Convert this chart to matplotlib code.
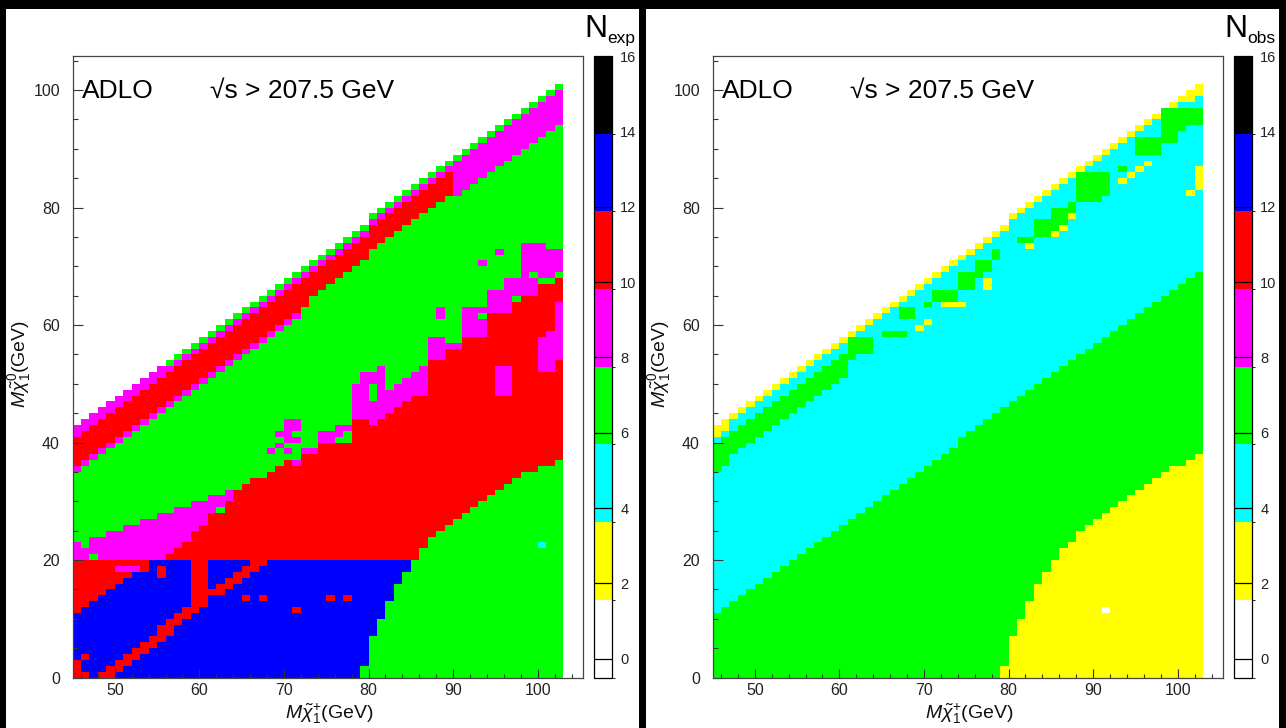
import numpy as np
import matplotlib
matplotlib.use("Agg")
import matplotlib.pyplot as plt
import matplotlib.patches as mpatches
from matplotlib.colors import ListedColormap, BoundaryNorm
from matplotlib.cm import ScalarMappable
from matplotlib.path import Path

FONT = ['Liberation Sans', 'DejaVu Sans']
plt.rcParams['font.family'] = FONT
plt.rcParams['mathtext.fontset'] = 'custom'
plt.rcParams['mathtext.rm'] = 'Liberation Sans'
plt.rcParams['mathtext.it'] = 'Liberation Sans:italic'

# ---------------- binning / palette ----------------
X_EDGES = np.arange(45, 104)          # 1 GeV chargino bins
Y_EDGES = np.arange(0, 103)           # 1 GeV neutralino bins
LEVELS = [-0.5, 1.5625, 3.625, 5.6875, 7.75, 9.8125, 11.875, 13.9375, 16.0]
PALETTE = ['#ffffff', '#ffff00', '#00ffff', '#00ff00',
           '#ff00ff', '#ff0000', '#0000ff', '#000000']
CB_TICKS = [0, 2, 4, 6, 8, 10, 12, 14, 16]
X_TICKS = [50, 60, 70, 80, 90, 100]
Y_TICKS = [0, 20, 40, 60, 80, 100]

# typical event count inside each colour band
W, Y, C, G, M, R, B = 1, 3, 5, 7, 9, 11, 13

# number of filled neutralino bins for each chargino column 45..102
TOP_EDGE = [43, 44, 45, 46, 47, 48, 49, 50, 51, 52, 53, 54, 55, 56, 57, 58,
            59, 60, 61, 62, 63, 64, 65, 66, 67, 68, 69, 70, 71, 72, 73, 74,
            75, 76, 77, 79, 80, 81, 82, 83, 84, 85, 86, 87, 88, 89, 90, 91,
            92, 93, 94, 95, 96, 97, 98, 99, 100, 101]

# ---------------- N_exp map ----------------
# bands measured downward from the kinematic edge: (col0, col1, depth0, depth1, level)
EXP_DEPTH_BANDS = [
    (45, 55, 1, 2, M), (56, 102, 1, 1, G), (56, 102, 2, 2, M),
    (45, 72, 3, 7, R), (45, 71, 8, 8, M), (73, 89, 3, 6, R), (90, 102, 3, 7, M),
]
EXP_MAG_BAND = [(45, 8), (45, 22.6), (67.6, 33.9), (67.6, 8)]
EXP_RED_UPPER = [(45, 19.6), (54.8, 19.6), (56.8, 21.7), (58.8, 23.7), (59.8, 25.7),
                 (60.8, 26.7), (62.6, 28.9), (64.6, 31.8), (66.5, 33.8), (68.5, 35.2),
                 (70.5, 36.6), (72.5, 37.8), (74.5, 39.7), (77.5, 39.7), (77.5, 43.7),
                 (79.3, 43.7), (80.4, 42.6), (81.4, 43.7), (82.4, 44.6), (83.4, 45.7),
                 (84.4, 46.8), (85.4, 47.7), (87.2, 47.7), (87.2, 53.9), (89.2, 53.9),
                 (89.2, 55.8), (91.2, 55.8), (91.2, 57.9), (93.2, 60.8), (95.1, 62.8),
                 (97.1, 63.8), (99.1, 65.8), (101.1, 66.9), (103, 68.9)]
EXP_GREEN_EDGE = [(103, 37.7), (101, 36), (99, 35), (97, 33), (94, 30.8), (92, 28.7),
                  (90, 26.7), (88, 24.7), (86, 21.6), (85.3, 19.6)]
BLUE_STAIR = [(85, 20), (85, 18), (84, 18), (84, 16), (83, 16), (83, 13), (82, 13),
              (82, 10), (81, 10), (81, 7), (80, 7), (80, 2), (79, 2), (79, 0)]
BLUE_TOPLEFT = [(45, 0), (45, 11), (46, 11), (46, 12), (47, 12), (47, 13), (48, 13),
                (48, 14), (49, 14), (49, 15), (50, 15), (50, 16), (51, 16), (51, 17),
                (52, 17), (52, 18), (54, 18), (54, 20)]
EXP_RED_STREAKS = [
    [(48, 0), (50, 0), (61, 12.5), (59, 12.5)],
    [(59, 12), (61, 12), (61, 20), (59, 20)],
    [(60.5, 13.5), (62.5, 13.5), (68.5, 20), (66.5, 20)],
]
EXP_RED_CELLS = [(45, 0), (45, 1), (45, 2), (46, 0), (46, 3), (65, 13), (67, 13),
                 (75, 13), (77, 13), (71, 11), (55, 17), (55, 18)]
EXP_MAG_CELLS = [(50, 18), (51, 18), (52, 18)]
# (column, first row, last row)
EXP_MAG_RUNS = [
    (68, 38, 38), (69, 39, 39), (69, 41, 41), (70, 38, 38), (70, 40, 43), (71, 40, 43),
    (71, 36, 36), (72, 38, 38), (73, 38, 38), (74, 40, 41), (75, 40, 41), (76, 41, 42),
    (77, 42, 42), (78, 44, 49), (79, 44, 51), (80, 43, 51), (81, 44, 52),
    (82, 45, 48), (83, 46, 49), (84, 47, 50), (85, 48, 51), (86, 48, 52),
    (87, 54, 57), (88, 54, 57), (88, 61, 62), (89, 56, 56), (90, 56, 56),
    (91, 58, 62), (92, 58, 62), (93, 58, 62), (94, 62, 65), (95, 62, 65), (96, 62, 67),
    (97, 65, 67), (98, 65, 73), (99, 65, 73), (100, 68, 73), (101, 68, 72), (102, 69, 72),
    (95, 48, 52), (96, 48, 52), (100, 52, 57), (101, 52, 58), (102, 54, 63),
    (95, 72, 72), (93, 70, 70),
]
EXP_GREEN_CELLS = [(47, 20), (46, 22), (71, 41), (80, 47), (80, 48), (80, 49),
                   (93, 61), (99, 68), (62, 28)]
EXP_CYAN_CELLS = [(100, 22)]

# ---------------- N_obs map ----------------
OBS_GREEN_LOWER = [(45, 0), (45, 10.8), (103, 69.2), (103, 0)]
# (first row, last row, first yellow column)
OBS_YELLOW_ROWS = [(0, 1, 79), (2, 6, 80), (7, 9, 81), (10, 12, 82), (13, 15, 83),
                   (16, 17, 84), (18, 19, 85), (20, 21, 86), (22, 22, 87), (23, 24, 88),
                   (25, 25, 89), (26, 26, 90), (27, 27, 91), (28, 28, 92), (29, 29, 93),
                   (30, 30, 94), (31, 31, 95), (32, 32, 96), (33, 33, 97), (34, 34, 98),
                   (35, 35, 99), (36, 36, 101), (37, 37, 102)]
OBS_WHITE_CELLS = [(91, 11)]
OBS_DEPTH_BANDS = [(45, 102, 1, 1, Y), (45, 46, 2, 2, Y), (101, 102, 2, 2, Y)]
OBS_GREEN_RUNS = [
    (45, 35, 39), (46, 36, 40), (47, 38, 41), (48, 39, 42), (49, 40, 43), (50, 41, 44),
    (51, 42, 45), (52, 43, 46), (53, 44, 47), (54, 45, 48), (55, 46, 49), (56, 47, 50),
    (57, 48, 51), (58, 49, 52), (59, 50, 53), (60, 51, 54), (61, 54, 57), (62, 55, 57),
    (63, 55, 57), (65, 58, 58), (66, 58, 58), (67, 58, 58), (67, 61, 62), (68, 61, 62),
    (70, 63, 63), (71, 64, 65), (72, 64, 65), (73, 64, 65), (74, 66, 68), (75, 66, 68),
    (76, 68, 70), (77, 69, 70), (78, 71, 72), (81, 74, 74), (82, 74, 74), (83, 75, 77),
    (84, 75, 77), (85, 76, 79), (86, 76, 79), (87, 79, 80), (88, 81, 85), (89, 81, 85),
    (90, 81, 85), (91, 82, 85), (93, 86, 86), (95, 89, 91), (96, 89, 91), (97, 89, 91),
    (98, 91, 96), (99, 91, 96), (100, 93, 96), (101, 94, 96), (102, 94, 96),
]
OBS_YELLOW_CELLS = [(102, 83), (102, 84), (102, 85), (102, 86), (101, 82), (93, 84),
                    (94, 85), (95, 86), (96, 87), (87, 78), (85, 75), (86, 76), (82, 73),
                    (77, 66), (77, 67), (72, 63), (73, 63), (74, 63), (69, 59), (70, 60)]

# ---------------- helpers ----------------
CX = X_EDGES[:-1] + 0.5
CY = Y_EDGES[:-1] + 0.5
GX, GY = np.meshgrid(CX, CY)
PTS = np.column_stack([GX.ravel(), GY.ravel()])


def new_map(level):
    z = np.full(GX.shape, np.nan)
    for i, t in enumerate(TOP_EDGE):
        z[:t, i] = level
    return z


def fill_poly(z, verts, level):
    inside = Path(verts).contains_points(PTS).reshape(GX.shape)
    z[inside] = level


def fill_cells(z, cells, level):
    for c, r in cells:
        z[r, c - 45] = level


def fill_runs(z, runs, level):
    for c, r0, r1 in runs:
        z[r0:r1 + 1, c - 45] = level


def fill_depth(z, bands):
    for c0, c1, d0, d1, level in bands:
        for c in range(c0, c1 + 1):
            t = TOP_EDGE[c - 45]
            z[t - d1:t - d0 + 1, c - 45] = level


def clip_top(z):
    for i, t in enumerate(TOP_EDGE):
        z[t:, i] = np.nan
    return np.ma.masked_invalid(z)


# N_exp
z_exp = new_map(G)
fill_depth(z_exp, EXP_DEPTH_BANDS)
fill_poly(z_exp, EXP_MAG_BAND, M)
fill_poly(z_exp, [(45, 0)] + EXP_RED_UPPER + EXP_GREEN_EDGE + BLUE_STAIR, R)
fill_poly(z_exp, BLUE_TOPLEFT + BLUE_STAIR, B)
for poly in EXP_RED_STREAKS:
    fill_poly(z_exp, poly, R)
fill_cells(z_exp, EXP_RED_CELLS, R)
fill_cells(z_exp, EXP_MAG_CELLS, M)
fill_runs(z_exp, EXP_MAG_RUNS, M)
fill_cells(z_exp, EXP_GREEN_CELLS, G)
fill_cells(z_exp, EXP_CYAN_CELLS, C)
z_exp = clip_top(z_exp)

# N_obs
z_obs = new_map(C)
fill_poly(z_obs, OBS_GREEN_LOWER, G)
for r0, r1, c0 in OBS_YELLOW_ROWS:
    z_obs[r0:r1 + 1, c0 - 45:] = Y
fill_cells(z_obs, OBS_WHITE_CELLS, W)
fill_depth(z_obs, OBS_DEPTH_BANDS)
fill_runs(z_obs, OBS_GREEN_RUNS, G)
fill_cells(z_obs, OBS_YELLOW_CELLS, Y)
z_obs = clip_top(z_obs)

# ---------------- figure ----------------
FW, FH = 1286, 728
fig = plt.figure(figsize=(FW / 100, FH / 100), dpi=100, facecolor='black')
cmap = ListedColormap(PALETTE)
norm = BoundaryNorm(LEVELS, cmap.N)

FRAME_TOP, FRAME_BOTTOM = 56, 677.5


def px_rect(x0, y0, x1, y1):
    """pixel box (top-left origin) -> figure fraction [l, b, w, h]"""
    return [x0 / FW, 1 - y1 / FH, (x1 - x0) / FW, (y1 - y0) / FH]


def draw_panel(dx, z, sub):
    l, b, w, h = px_rect(6 + dx, 9, 639 + dx, FH)
    fig.add_artist(mpatches.Rectangle((l, b), w, h, transform=fig.transFigure,
                                      facecolor='white', edgecolor='none', zorder=-5))
    ax = fig.add_axes(px_rect(72.5 + dx, FRAME_TOP, 582.5 + dx, FRAME_BOTTOM))
    ax.pcolormesh(X_EDGES, Y_EDGES, z, cmap=cmap, norm=norm,
                  shading='flat', antialiased=False, edgecolors='none', rasterized=True)
    ax.set_xlim(45, 105.3)
    ax.set_ylim(0, 105.8)
    ax.set_xticks(X_TICKS)
    ax.set_xticks(np.arange(46, 105, 2), minor=True)
    ax.set_yticks(Y_TICKS)
    ax.set_yticks(np.arange(0, 106, 5), minor=True)
    ax.tick_params(which='both', direction='in', top=False, right=False,
                   color='#333333', width=0.8, labelsize=11.5, labelcolor='#222222')
    ax.tick_params(axis='x', which='major', length=6.5, pad=4)
    ax.tick_params(axis='x', which='minor', length=3.2)
    ax.tick_params(axis='y', which='major', length=7.5, pad=9)
    ax.tick_params(axis='y', which='minor', length=3.6)
    for s in ax.spines.values():
        s.set_color('#444444')
        s.set_linewidth(0.9)
    ax.text(0.019, 0.9324, 'ADLO', transform=ax.transAxes, fontsize=19,
            ha='left', va='baseline', color='black')
    ax.text(0.270, 0.9324, '\u221as > 207.5 GeV', transform=ax.transAxes, fontsize=19,
            ha='left', va='baseline', color='black', family=FONT)
    fig.text((329 + dx) / FW, 1 - 719 / FH, r'$M\tilde{\chi}^{+}_{1}$(GeV)',
             ha='center', va='baseline', fontsize=14, color='#111111')
    fig.text((20 + dx) / FW, 1 - 364 / FH, r'$M\tilde{\chi}^{0}_{1}$(GeV)',
             ha='center', va='center', rotation=90, fontsize=14, color='#111111')

    cax = fig.add_axes(px_rect(594 + dx, FRAME_TOP, 612 + dx, FRAME_BOTTOM))
    cb = fig.colorbar(ScalarMappable(norm=norm, cmap=cmap), cax=cax,
                      boundaries=LEVELS, ticks=CB_TICKS)
    cb.outline.set_linewidth(0.9)
    cb.outline.set_edgecolor('black')
    cax.set_ylim(LEVELS[0], LEVELS[-1])
    cax.tick_params(length=0, pad=6, labelsize=10.5, labelcolor='#222222')
    for v in CB_TICKS[:-2]:
        cax.axhline(v, color='black', lw=0.9)
    fig.text((584 + dx) / FW, 1 - 37 / FH, 'N', fontsize=23, ha='left', va='baseline')
    fig.text((607 + dx) / FW, 1 - 43 / FH, sub, fontsize=12.5, ha='left', va='baseline')
    return ax


draw_panel(0, z_exp, 'exp')
draw_panel(640, z_obs, 'obs')

fig.savefig('out.png', dpi=100, facecolor='black')
